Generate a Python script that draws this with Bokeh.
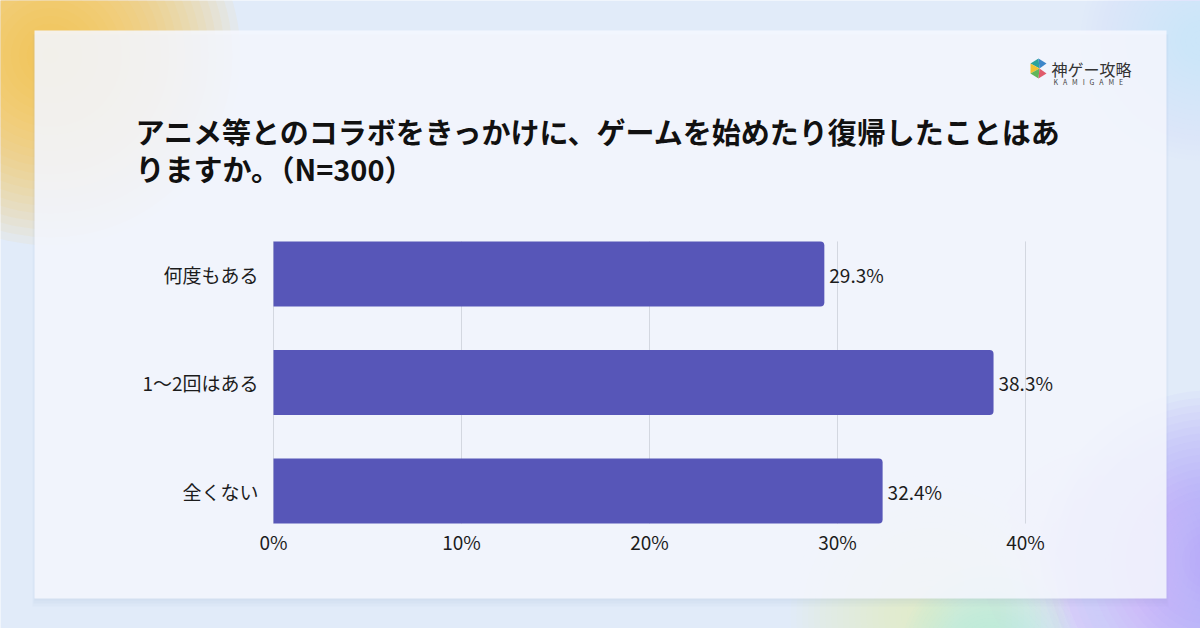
from bokeh.plotting import figure
from bokeh.models import Range1d, Label, LabelSet, ColumnDataSource
from bokeh.core.properties import value
from bokeh.embed import file_html
from bokeh.resources import INLINE

# survey answers and their shares (%)
categories = ["何度もある", "1〜2回はある", "全くない"]
percentages = [29.3, 38.3, 32.4]
tick_values = [0, 10, 20, 30, 40]
tick_labels = ["0%", "10%", "20%", "30%", "40%"]
title_lines = ["アニメ等とのコラボをきっかけに、ゲームを始めたり復帰したことはあ",
               "りますか。（N=300）"]

# page geometry (pixels, y measured from the top)
W, H = 1200, 628
PLOT_L, PLOT_R = 273, 1025      # 0% and 40% positions
ROW0, ROW_PX = 273.5, 108.5     # centre of first row, row pitch
BAR_H = 0.6
JP = "Noto Sans CJK JP"
INK = "#1c1c1c"
BAR = "#5756b8"
BG = "#e1ebf9"
FS = "19px"

px_per_pct = (PLOT_R - PLOT_L) / (tick_values[-1] - tick_values[0])

p = figure(width=W, height=H, x_range=Range1d(0, W), y_range=Range1d(H, 0),
           x_axis_location=None, y_axis_location=None, min_border=0,
           output_backend="svg", toolbar_location=None)
p.background_fill_color = BG
p.border_fill_color = BG
p.outline_line_color = None
p.grid.grid_line_color = None

# value scale and row scale for the bar chart
p.extra_x_ranges = {"pct": Range1d(-PLOT_L / px_per_pct, (W - PLOT_L) / px_per_pct)}
p.extra_y_ranges = {"rows": Range1d((H - ROW0) / ROW_PX, -ROW0 / ROW_PX)}


def blob(cx, cy, r, color, steps=24, alpha=0.05):
    radii = [r * (1 - i / steps) for i in range(steps)]
    p.circle(x=[cx] * steps, y=[cy] * steps, radius=radii,
             fill_color=color, fill_alpha=alpha, line_color=None)


# soft colour glows behind the card
blob(50, 55, 190, "#fbbd3f", alpha=0.065)
blob(1210, 560, 170, "#a497f7", alpha=0.06)
blob(1100, 560, 120, "#e6c6fb", alpha=0.04)
blob(930, 615, 140, "#eef6bc", alpha=0.045)
blob(990, 655, 90, "#b9efe6", alpha=0.05)
blob(1200, 40, 120, "#d6e9f8", alpha=0.04)

# card shadow and card
for k in range(3):
    p.quad(left=34 - k, right=1166 + k, top=34, bottom=600 + 3 * k,
           fill_color="#8f9bbd", fill_alpha=0.05, line_color=None)
p.quad(left=34, right=1166, top=30, bottom=598,
       fill_color="#f5f7fe", fill_alpha=0.87, line_color=None)

# bar chart
rows = list(range(len(categories)))
src = ColumnDataSource(dict(row=rows, cat=categories, val=percentages,
                            txt=[f"{v}%" for v in percentages]))
p.segment(x0=tick_values, x1=tick_values,
          y0=rows[0] - BAR_H / 2, y1=rows[-1] + BAR_H / 2,
          x_range_name="pct", y_range_name="rows",
          line_color="#d3d7e0", line_width=1)
p.hbar(y="row", left=0, right="val", height=BAR_H, source=src,
       x_range_name="pct", y_range_name="rows",
       fill_color=BAR, line_color=None, border_radius=(0, 4, 4, 0))

p.add_layout(LabelSet(x="val", y="row", text="txt", source=src, x_offset=5,
                      x_range_name="pct", y_range_name="rows",
                      text_baseline="middle", text_font=value(JP),
                      text_font_size=FS, text_color=INK))

# category labels
p.add_layout(LabelSet(x=PLOT_L - 15, y="row", text="cat", source=src,
                      x_units="screen", y_range_name="rows",
                      text_align="right", text_baseline="middle",
                      text_font=value(JP), text_font_size=FS, text_color=INK))

# value axis labels
tick_src = ColumnDataSource(dict(t=tick_values, lab=tick_labels))
p.add_layout(LabelSet(x="t", y=H - 541, text="lab", source=tick_src,
                      x_range_name="pct", y_units="screen",
                      text_align="center", text_baseline="middle",
                      text_font=value(JP), text_font_size=FS, text_color=INK))

# title
for i, line in enumerate(title_lines):
    p.add_layout(Label(x=135, y=130 + i * 37, text=line, text_font=JP,
                       text_font_size="29px", text_font_style="bold",
                       text_color="#111111", text_baseline="middle"))

# logo mark
cx, cy = 1038, 68
hexagon = [(cx, cy - 10), (cx + 8, cy - 5), (cx + 8, cy + 5), (cx, cy + 10),
           (cx - 8, cy + 5), (cx - 8, cy - 5)]
pieces = [((5, 0), "#2ba39c"), ((0, 1), "#3d86c9"), ((4, 5), "#f0c232"),
          ((3, 4), "#62b65a"), ((2, 3), "#e05b6b")]
p.patches(xs=[[hexagon[a][0], hexagon[b][0], cx + 1] for (a, b), _ in pieces],
          ys=[[hexagon[a][1], hexagon[b][1], cy] for (a, b), _ in pieces],
          fill_color=[c for _, c in pieces], line_color=None)
p.add_layout(Label(x=1051, y=68, text="神ゲー攻略", text_font=JP,
                   text_font_size="16px", text_color="#333333",
                   text_baseline="middle"))
p.add_layout(Label(x=1053, y=81, text="\u2002\u2009".join("KAMIGAME"), text_font=JP,
                   text_font_size="7px", text_color="#444444",
                   text_baseline="middle"))

open("out.html", "w").write(file_html(p, INLINE))
